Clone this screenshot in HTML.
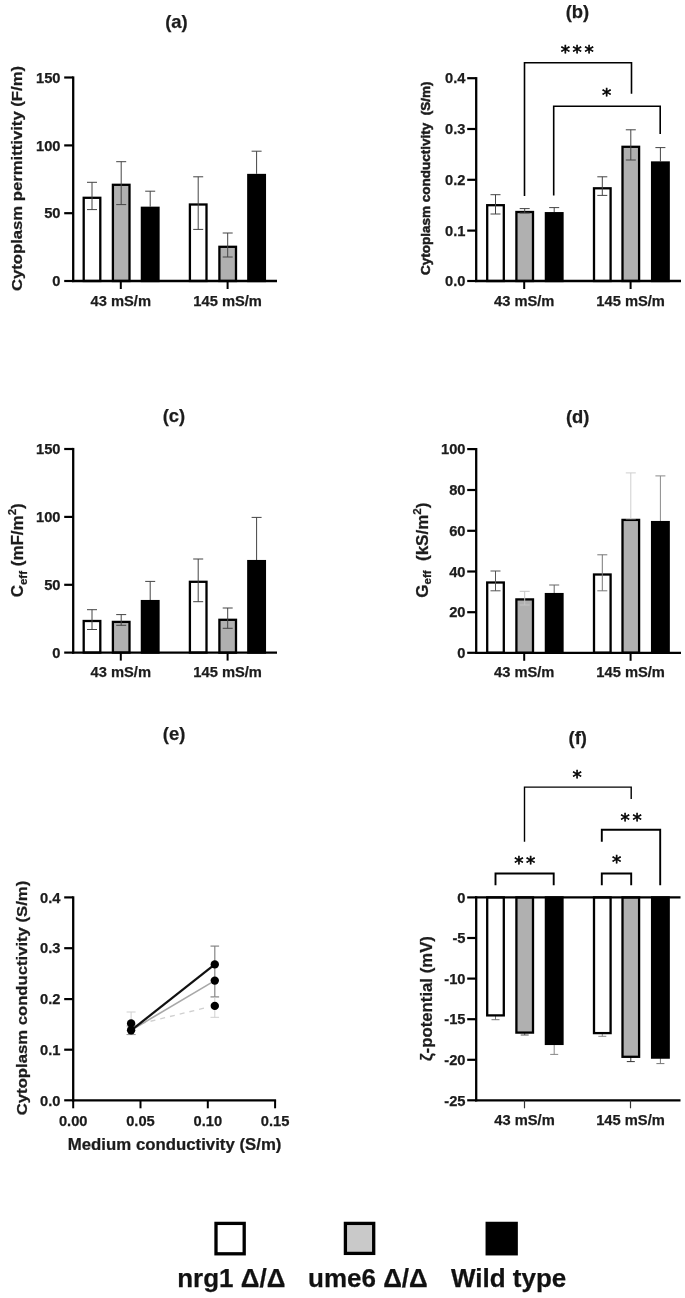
<!DOCTYPE html>
<html lang="en"><head><meta charset="utf-8"><title>Figure</title>
<style>
html,body{margin:0;padding:0;background:#fff;}
body{width:685px;height:1298px;overflow:hidden;}
svg{display:block;font-family:"Liberation Sans", Arial, sans-serif;}
text{stroke:#1c1c1c;stroke-width:0.25px;}
</style></head><body>
<svg width="685" height="1298" viewBox="0 0 685 1298">
<rect width="685" height="1298" fill="#fff"/>
<g style="filter:blur(0.68px)">
<text x="176.4" y="27.7" font-size="18.4" font-weight="bold" text-anchor="middle" fill="#1c1c1c" >(a)</text>
<rect x="83.7" y="197.8" width="16.6" height="83.2" fill="#fff" stroke="#000" stroke-width="2.3"/>
<line x1="92.0" y1="182.3" x2="92.0" y2="209.6" stroke="#444" stroke-width="1.0" />
<line x1="87.0" y1="182.3" x2="97.0" y2="182.3" stroke="#444" stroke-width="1.0" />
<line x1="87.0" y1="209.6" x2="97.0" y2="209.6" stroke="#444" stroke-width="1.0" />
<rect x="112.9" y="184.8" width="16.6" height="96.2" fill="#b0b0b0" stroke="#000" stroke-width="2.3"/>
<line x1="121.2" y1="161.7" x2="121.2" y2="204.6" stroke="#444" stroke-width="1.0" />
<line x1="116.2" y1="161.7" x2="126.2" y2="161.7" stroke="#444" stroke-width="1.0" />
<line x1="116.2" y1="204.6" x2="126.2" y2="204.6" stroke="#444" stroke-width="1.0" />
<line x1="150.2" y1="191.2" x2="150.2" y2="206.6" stroke="#444" stroke-width="1.0" />
<line x1="145.2" y1="191.2" x2="155.2" y2="191.2" stroke="#444" stroke-width="1.0" />
<rect x="141.9" y="207.8" width="16.6" height="73.2" fill="#000" stroke="#000" stroke-width="2.3"/>
<rect x="189.9" y="204.5" width="16.6" height="76.5" fill="#fff" stroke="#000" stroke-width="2.3"/>
<line x1="198.2" y1="176.8" x2="198.2" y2="229.4" stroke="#444" stroke-width="1.0" />
<line x1="193.2" y1="176.8" x2="203.2" y2="176.8" stroke="#444" stroke-width="1.0" />
<line x1="193.2" y1="229.4" x2="203.2" y2="229.4" stroke="#444" stroke-width="1.0" />
<rect x="219.4" y="246.8" width="16.6" height="34.2" fill="#b0b0b0" stroke="#000" stroke-width="2.3"/>
<line x1="227.7" y1="233.0" x2="227.7" y2="257.0" stroke="#444" stroke-width="1.0" />
<line x1="222.7" y1="233.0" x2="232.7" y2="233.0" stroke="#444" stroke-width="1.0" />
<line x1="222.7" y1="257.0" x2="232.7" y2="257.0" stroke="#444" stroke-width="1.0" />
<line x1="256.6" y1="151.2" x2="256.6" y2="173.8" stroke="#444" stroke-width="1.0" />
<line x1="251.6" y1="151.2" x2="261.6" y2="151.2" stroke="#444" stroke-width="1.0" />
<rect x="248.3" y="175.0" width="16.6" height="106.0" fill="#000" stroke="#000" stroke-width="2.3"/>
<line x1="73.2" y1="76.4" x2="73.2" y2="282.1" stroke="#000" stroke-width="2.3" />
<line x1="64.2" y1="77.5" x2="73.2" y2="77.5" stroke="#000" stroke-width="2.2" />
<text x="60.5" y="82.7" font-size="14.7" font-weight="bold" text-anchor="end" fill="#1c1c1c" >150</text>
<line x1="64.2" y1="145.4" x2="73.2" y2="145.4" stroke="#000" stroke-width="2.2" />
<text x="60.5" y="150.6" font-size="14.7" font-weight="bold" text-anchor="end" fill="#1c1c1c" >100</text>
<line x1="64.2" y1="213.2" x2="73.2" y2="213.2" stroke="#000" stroke-width="2.2" />
<text x="60.5" y="218.4" font-size="14.7" font-weight="bold" text-anchor="end" fill="#1c1c1c" >50</text>
<line x1="64.2" y1="281.0" x2="73.2" y2="281.0" stroke="#000" stroke-width="2.2" />
<text x="60.5" y="286.2" font-size="14.7" font-weight="bold" text-anchor="end" fill="#1c1c1c" >0</text>
<line x1="72.1" y1="281.0" x2="277.0" y2="281.0" stroke="#000" stroke-width="2.3" />
<line x1="120.8" y1="281.0" x2="120.8" y2="289.0" stroke="#000" stroke-width="2" />
<text x="120.8" y="305.5" font-size="14.7" font-weight="bold" text-anchor="middle" fill="#1c1c1c" >43 mS/m</text>
<line x1="227.6" y1="281.0" x2="227.6" y2="289.0" stroke="#000" stroke-width="2" />
<text x="227.6" y="305.5" font-size="14.7" font-weight="bold" text-anchor="middle" fill="#1c1c1c" >145 mS/m</text>
<text transform="translate(21.8 178.5) rotate(-90) scale(1.0830 1)" font-size="15.4" font-weight="bold" text-anchor="middle" fill="#1c1c1c" >Cytoplasm permittivity (F/m)</text>
<text x="577.4" y="18.2" font-size="18.4" font-weight="bold" text-anchor="middle" fill="#1c1c1c" >(b)</text>
<polyline points="524.5,195.9 524.5,62.8 631.5,62.8 631.5,93.8" fill="none" stroke="#000" stroke-width="1.6"/>
<polyline points="553.7,195.4 553.7,106.2 660.2,106.2 660.2,134.0" fill="none" stroke="#000" stroke-width="1.6"/>
<text x="578.6" y="58.3" font-size="18.5" text-anchor="middle" fill="#000" style="stroke:#000;stroke-width:0.6px" letter-spacing="2.7" font-family='"DejaVu Sans", "Liberation Sans", sans-serif'>***</text>
<text x="608.1" y="100.5" font-size="18.5" text-anchor="middle" fill="#000" style="stroke:#000;stroke-width:0.6px" letter-spacing="2.7" font-family='"DejaVu Sans", "Liberation Sans", sans-serif'>*</text>
<rect x="487.2" y="205.2" width="16.6" height="75.8" fill="#fff" stroke="#000" stroke-width="2.3"/>
<line x1="495.5" y1="194.7" x2="495.5" y2="214.0" stroke="#444" stroke-width="1.0" />
<line x1="490.5" y1="194.7" x2="500.5" y2="194.7" stroke="#444" stroke-width="1.0" />
<line x1="490.5" y1="214.0" x2="500.5" y2="214.0" stroke="#444" stroke-width="1.0" />
<rect x="516.4" y="212.0" width="16.6" height="69.0" fill="#b0b0b0" stroke="#000" stroke-width="2.3"/>
<line x1="524.7" y1="208.6" x2="524.7" y2="213.0" stroke="#444" stroke-width="1.0" />
<line x1="519.7" y1="208.6" x2="529.7" y2="208.6" stroke="#444" stroke-width="1.0" />
<line x1="519.7" y1="213.0" x2="529.7" y2="213.0" stroke="#444" stroke-width="1.0" />
<line x1="554.2" y1="207.6" x2="554.2" y2="212.0" stroke="#444" stroke-width="1.0" />
<line x1="549.2" y1="207.6" x2="559.2" y2="207.6" stroke="#444" stroke-width="1.0" />
<rect x="545.9" y="213.2" width="16.6" height="67.8" fill="#000" stroke="#000" stroke-width="2.3"/>
<rect x="594.0" y="188.3" width="16.6" height="92.7" fill="#fff" stroke="#000" stroke-width="2.3"/>
<line x1="602.3" y1="176.8" x2="602.3" y2="195.4" stroke="#444" stroke-width="1.0" />
<line x1="597.3" y1="176.8" x2="607.3" y2="176.8" stroke="#444" stroke-width="1.0" />
<line x1="597.3" y1="195.4" x2="607.3" y2="195.4" stroke="#444" stroke-width="1.0" />
<rect x="622.5" y="146.8" width="16.6" height="134.2" fill="#b0b0b0" stroke="#000" stroke-width="2.3"/>
<line x1="630.8" y1="129.8" x2="630.8" y2="160.0" stroke="#444" stroke-width="1.0" />
<line x1="625.8" y1="129.8" x2="635.8" y2="129.8" stroke="#444" stroke-width="1.0" />
<line x1="625.8" y1="160.0" x2="635.8" y2="160.0" stroke="#444" stroke-width="1.0" />
<line x1="660.4" y1="147.6" x2="660.4" y2="161.3" stroke="#444" stroke-width="1.0" />
<line x1="655.4" y1="147.6" x2="665.4" y2="147.6" stroke="#444" stroke-width="1.0" />
<rect x="652.1" y="162.5" width="16.6" height="118.5" fill="#000" stroke="#000" stroke-width="2.3"/>
<line x1="476.2" y1="77.1" x2="476.2" y2="282.1" stroke="#000" stroke-width="2.3" />
<line x1="467.2" y1="78.2" x2="476.2" y2="78.2" stroke="#000" stroke-width="2.2" />
<text x="465.5" y="83.4" font-size="14.7" font-weight="bold" text-anchor="end" fill="#1c1c1c" >0.4</text>
<line x1="467.2" y1="129.0" x2="476.2" y2="129.0" stroke="#000" stroke-width="2.2" />
<text x="465.5" y="134.2" font-size="14.7" font-weight="bold" text-anchor="end" fill="#1c1c1c" >0.3</text>
<line x1="467.2" y1="179.8" x2="476.2" y2="179.8" stroke="#000" stroke-width="2.2" />
<text x="465.5" y="185.0" font-size="14.7" font-weight="bold" text-anchor="end" fill="#1c1c1c" >0.2</text>
<line x1="467.2" y1="230.6" x2="476.2" y2="230.6" stroke="#000" stroke-width="2.2" />
<text x="465.5" y="235.8" font-size="14.7" font-weight="bold" text-anchor="end" fill="#1c1c1c" >0.1</text>
<line x1="467.2" y1="281.0" x2="476.2" y2="281.0" stroke="#000" stroke-width="2.2" />
<text x="465.5" y="286.2" font-size="14.7" font-weight="bold" text-anchor="end" fill="#1c1c1c" >0.0</text>
<line x1="475.1" y1="281.0" x2="681.0" y2="281.0" stroke="#000" stroke-width="2.3" />
<line x1="524.2" y1="281.0" x2="524.2" y2="289.0" stroke="#000" stroke-width="2" />
<text x="524.2" y="305.5" font-size="14.7" font-weight="bold" text-anchor="middle" fill="#1c1c1c" >43 mS/m</text>
<line x1="630.6" y1="281.0" x2="630.6" y2="289.0" stroke="#000" stroke-width="2" />
<text x="630.6" y="305.5" font-size="14.7" font-weight="bold" text-anchor="middle" fill="#1c1c1c" >145 mS/m</text>
<text transform="translate(430.0 178.3) rotate(-90) scale(1.0720 1)" font-size="12.6" font-weight="bold" text-anchor="middle" fill="#1c1c1c" style="stroke-width:0.5px">Cytoplasm conductivity&#160;&#160;(S/m)</text>
<text x="174.0" y="422.2" font-size="18.4" font-weight="bold" text-anchor="middle" fill="#1c1c1c" >(c)</text>
<rect x="83.7" y="621.0" width="16.6" height="31.6" fill="#fff" stroke="#000" stroke-width="2.3"/>
<line x1="92.0" y1="609.7" x2="92.0" y2="629.5" stroke="#444" stroke-width="1.0" />
<line x1="87.0" y1="609.7" x2="97.0" y2="609.7" stroke="#444" stroke-width="1.0" />
<line x1="87.0" y1="629.5" x2="97.0" y2="629.5" stroke="#444" stroke-width="1.0" />
<rect x="112.9" y="621.9" width="16.6" height="30.7" fill="#b0b0b0" stroke="#000" stroke-width="2.3"/>
<line x1="121.2" y1="614.6" x2="121.2" y2="625.3" stroke="#444" stroke-width="1.0" />
<line x1="116.2" y1="614.6" x2="126.2" y2="614.6" stroke="#444" stroke-width="1.0" />
<line x1="116.2" y1="625.3" x2="126.2" y2="625.3" stroke="#444" stroke-width="1.0" />
<line x1="150.2" y1="581.4" x2="150.2" y2="600.0" stroke="#444" stroke-width="1.0" />
<line x1="145.2" y1="581.4" x2="155.2" y2="581.4" stroke="#444" stroke-width="1.0" />
<rect x="141.9" y="601.1" width="16.6" height="51.5" fill="#000" stroke="#000" stroke-width="2.3"/>
<rect x="189.9" y="581.8" width="16.6" height="70.8" fill="#fff" stroke="#000" stroke-width="2.3"/>
<line x1="198.2" y1="559.0" x2="198.2" y2="601.7" stroke="#444" stroke-width="1.0" />
<line x1="193.2" y1="559.0" x2="203.2" y2="559.0" stroke="#444" stroke-width="1.0" />
<line x1="193.2" y1="601.7" x2="203.2" y2="601.7" stroke="#444" stroke-width="1.0" />
<rect x="219.4" y="619.8" width="16.6" height="32.9" fill="#b0b0b0" stroke="#000" stroke-width="2.3"/>
<line x1="227.7" y1="608.0" x2="227.7" y2="628.3" stroke="#444" stroke-width="1.0" />
<line x1="222.7" y1="608.0" x2="232.7" y2="608.0" stroke="#444" stroke-width="1.0" />
<line x1="222.7" y1="628.3" x2="232.7" y2="628.3" stroke="#444" stroke-width="1.0" />
<line x1="256.6" y1="517.4" x2="256.6" y2="560.0" stroke="#444" stroke-width="1.0" />
<line x1="251.6" y1="517.4" x2="261.6" y2="517.4" stroke="#444" stroke-width="1.0" />
<rect x="248.3" y="561.1" width="16.6" height="91.5" fill="#000" stroke="#000" stroke-width="2.3"/>
<line x1="73.2" y1="447.9" x2="73.2" y2="653.7" stroke="#000" stroke-width="2.3" />
<line x1="64.2" y1="449.0" x2="73.2" y2="449.0" stroke="#000" stroke-width="2.2" />
<text x="60.5" y="454.2" font-size="14.7" font-weight="bold" text-anchor="end" fill="#1c1c1c" >150</text>
<line x1="64.2" y1="516.9" x2="73.2" y2="516.9" stroke="#000" stroke-width="2.2" />
<text x="60.5" y="522.1" font-size="14.7" font-weight="bold" text-anchor="end" fill="#1c1c1c" >100</text>
<line x1="64.2" y1="584.8" x2="73.2" y2="584.8" stroke="#000" stroke-width="2.2" />
<text x="60.5" y="590.0" font-size="14.7" font-weight="bold" text-anchor="end" fill="#1c1c1c" >50</text>
<line x1="64.2" y1="652.6" x2="73.2" y2="652.6" stroke="#000" stroke-width="2.2" />
<text x="60.5" y="657.8" font-size="14.7" font-weight="bold" text-anchor="end" fill="#1c1c1c" >0</text>
<line x1="72.1" y1="652.6" x2="277.0" y2="652.6" stroke="#000" stroke-width="2.3" />
<line x1="120.8" y1="652.6" x2="120.8" y2="660.6" stroke="#000" stroke-width="2" />
<text x="120.8" y="677.1" font-size="14.7" font-weight="bold" text-anchor="middle" fill="#1c1c1c" >43 mS/m</text>
<line x1="227.6" y1="652.6" x2="227.6" y2="660.6" stroke="#000" stroke-width="2" />
<text x="227.6" y="677.1" font-size="14.7" font-weight="bold" text-anchor="middle" fill="#1c1c1c" >145 mS/m</text>
<text transform="translate(23.4 550.3) rotate(-90) scale(1.0900 1)" font-size="15.6" font-weight="bold" text-anchor="middle" fill="#1c1c1c" >C<tspan font-size="10.6" dy="3.2">eff</tspan><tspan dy="-3.2"> (mF/m</tspan><tspan font-size="10.6" dy="-7">2</tspan><tspan dy="7">)</tspan></text>
<text x="577.7" y="422.9" font-size="18.4" font-weight="bold" text-anchor="middle" fill="#1c1c1c" >(d)</text>
<rect x="487.2" y="582.5" width="16.6" height="70.2" fill="#fff" stroke="#000" stroke-width="2.3"/>
<line x1="495.5" y1="571.0" x2="495.5" y2="590.8" stroke="#555" stroke-width="1.0" />
<line x1="490.5" y1="571.0" x2="500.5" y2="571.0" stroke="#555" stroke-width="1.0" />
<line x1="490.5" y1="590.8" x2="500.5" y2="590.8" stroke="#555" stroke-width="1.0" />
<rect x="516.4" y="599.4" width="16.6" height="53.4" fill="#b0b0b0" stroke="#000" stroke-width="2.3"/>
<line x1="524.7" y1="591.3" x2="524.7" y2="605.0" stroke="#c4c4c4" stroke-width="1.0" />
<line x1="519.7" y1="591.3" x2="529.7" y2="591.3" stroke="#c4c4c4" stroke-width="1.0" />
<line x1="519.7" y1="605.0" x2="529.7" y2="605.0" stroke="#c4c4c4" stroke-width="1.0" />
<line x1="554.2" y1="585.0" x2="554.2" y2="593.0" stroke="#666" stroke-width="1.0" />
<line x1="549.2" y1="585.0" x2="559.2" y2="585.0" stroke="#666" stroke-width="1.0" />
<rect x="545.9" y="594.1" width="16.6" height="58.6" fill="#000" stroke="#000" stroke-width="2.3"/>
<rect x="594.0" y="574.5" width="16.6" height="78.2" fill="#fff" stroke="#000" stroke-width="2.3"/>
<line x1="602.3" y1="554.8" x2="602.3" y2="590.8" stroke="#777" stroke-width="1.0" />
<line x1="597.3" y1="554.8" x2="607.3" y2="554.8" stroke="#777" stroke-width="1.0" />
<line x1="597.3" y1="590.8" x2="607.3" y2="590.8" stroke="#777" stroke-width="1.0" />
<rect x="622.5" y="519.9" width="16.6" height="132.8" fill="#b0b0b0" stroke="#000" stroke-width="2.3"/>
<line x1="630.8" y1="472.9" x2="630.8" y2="518.8" stroke="#cfcfcf" stroke-width="1.0" />
<line x1="625.8" y1="472.9" x2="635.8" y2="472.9" stroke="#cfcfcf" stroke-width="1.0" />
<line x1="625.8" y1="518.8" x2="635.8" y2="518.8" stroke="#cfcfcf" stroke-width="1.0" />
<line x1="660.4" y1="475.9" x2="660.4" y2="521.0" stroke="#8a8a8a" stroke-width="1.0" />
<line x1="655.4" y1="475.9" x2="665.4" y2="475.9" stroke="#8a8a8a" stroke-width="1.0" />
<rect x="652.1" y="522.1" width="16.6" height="130.6" fill="#000" stroke="#000" stroke-width="2.3"/>
<line x1="476.2" y1="448.0" x2="476.2" y2="653.9" stroke="#000" stroke-width="2.3" />
<line x1="467.2" y1="449.1" x2="476.2" y2="449.1" stroke="#000" stroke-width="2.2" />
<text x="465.5" y="454.3" font-size="14.7" font-weight="bold" text-anchor="end" fill="#1c1c1c" >100</text>
<line x1="467.2" y1="490.0" x2="476.2" y2="490.0" stroke="#000" stroke-width="2.2" />
<text x="465.5" y="495.2" font-size="14.7" font-weight="bold" text-anchor="end" fill="#1c1c1c" >80</text>
<line x1="467.2" y1="530.8" x2="476.2" y2="530.8" stroke="#000" stroke-width="2.2" />
<text x="465.5" y="536.0" font-size="14.7" font-weight="bold" text-anchor="end" fill="#1c1c1c" >60</text>
<line x1="467.2" y1="571.5" x2="476.2" y2="571.5" stroke="#000" stroke-width="2.2" />
<text x="465.5" y="576.7" font-size="14.7" font-weight="bold" text-anchor="end" fill="#1c1c1c" >40</text>
<line x1="467.2" y1="612.2" x2="476.2" y2="612.2" stroke="#000" stroke-width="2.2" />
<text x="465.5" y="617.4" font-size="14.7" font-weight="bold" text-anchor="end" fill="#1c1c1c" >20</text>
<line x1="467.2" y1="652.8" x2="476.2" y2="652.8" stroke="#000" stroke-width="2.2" />
<text x="465.5" y="658.0" font-size="14.7" font-weight="bold" text-anchor="end" fill="#1c1c1c" >0</text>
<line x1="475.1" y1="652.8" x2="681.0" y2="652.8" stroke="#000" stroke-width="2.3" />
<line x1="524.2" y1="652.8" x2="524.2" y2="660.8" stroke="#000" stroke-width="2" />
<text x="524.2" y="677.3" font-size="14.7" font-weight="bold" text-anchor="middle" fill="#1c1c1c" >43 mS/m</text>
<line x1="630.6" y1="652.8" x2="630.6" y2="660.8" stroke="#000" stroke-width="2" />
<text x="630.6" y="677.3" font-size="14.7" font-weight="bold" text-anchor="middle" fill="#1c1c1c" >145 mS/m</text>
<text transform="translate(427.8 550.2) rotate(-90) scale(1.0900 1)" font-size="15.6" font-weight="bold" text-anchor="middle" fill="#1c1c1c" >G<tspan font-size="10.6" dy="3.2">eff</tspan><tspan dy="-3.2">&#160;&#160;(kS/m</tspan><tspan font-size="10.6" dy="-7">2</tspan><tspan dy="7">)</tspan></text>
<text x="174.1" y="740.3" font-size="18.4" font-weight="bold" text-anchor="middle" fill="#1c1c1c" >(e)</text>
<line x1="131.1" y1="1012.0" x2="131.1" y2="1034.7" stroke="#cfcfcf" stroke-width="1.0" />
<line x1="126.6" y1="1012.0" x2="135.6" y2="1012.0" stroke="#cfcfcf" stroke-width="1.0" />
<line x1="126.6" y1="1034.7" x2="135.6" y2="1034.7" stroke="#cfcfcf" stroke-width="1.0" />
<line x1="131.1" y1="1026.0" x2="131.1" y2="1034.5" stroke="#999" stroke-width="1.0" />
<line x1="126.6" y1="1026.0" x2="135.6" y2="1026.0" stroke="#999" stroke-width="1.0" />
<line x1="126.6" y1="1034.5" x2="135.6" y2="1034.5" stroke="#999" stroke-width="1.0" />
<line x1="214.8" y1="946.1" x2="214.8" y2="996.9" stroke="#858585" stroke-width="1.2" />
<line x1="210.5" y1="946.1" x2="219.1" y2="946.1" stroke="#858585" stroke-width="1.2" />
<line x1="210.5" y1="996.9" x2="219.1" y2="996.9" stroke="#858585" stroke-width="1.2" />
<line x1="214.8" y1="996.9" x2="214.8" y2="1017.3" stroke="#d0d0d0" stroke-width="1.0" />
<line x1="210.5" y1="1017.3" x2="219.1" y2="1017.3" stroke="#d0d0d0" stroke-width="1.0" />
<line x1="131.1" y1="1026.0" x2="206.8" y2="1007.5" stroke="#d0d0d0" stroke-width="1.3" stroke-dasharray="5 5"/>
<line x1="131.1" y1="1030.2" x2="214.8" y2="980.6" stroke="#a8a8a8" stroke-width="1.6" />
<line x1="131.1" y1="1030.4" x2="214.8" y2="964.4" stroke="#111" stroke-width="2.2" />
<circle cx="131.1" cy="1023.4" r="4.2" fill="#000"/>
<circle cx="131.1" cy="1030.2" r="4.2" fill="#000"/>
<circle cx="214.8" cy="964.4" r="4.2" fill="#000"/>
<circle cx="214.8" cy="980.6" r="4.2" fill="#000"/>
<circle cx="214.8" cy="1005.9" r="4.2" fill="#000"/>
<line x1="73.2" y1="896.3" x2="73.2" y2="1101.4" stroke="#000" stroke-width="2.3" />
<line x1="64.2" y1="897.4" x2="73.2" y2="897.4" stroke="#000" stroke-width="2.2" />
<text x="60.5" y="902.6" font-size="14.7" font-weight="bold" text-anchor="end" fill="#1c1c1c" >0.4</text>
<line x1="64.2" y1="948.2" x2="73.2" y2="948.2" stroke="#000" stroke-width="2.2" />
<text x="60.5" y="953.4" font-size="14.7" font-weight="bold" text-anchor="end" fill="#1c1c1c" >0.3</text>
<line x1="64.2" y1="999.1" x2="73.2" y2="999.1" stroke="#000" stroke-width="2.2" />
<text x="60.5" y="1004.3" font-size="14.7" font-weight="bold" text-anchor="end" fill="#1c1c1c" >0.2</text>
<line x1="64.2" y1="1049.7" x2="73.2" y2="1049.7" stroke="#000" stroke-width="2.2" />
<text x="60.5" y="1054.9" font-size="14.7" font-weight="bold" text-anchor="end" fill="#1c1c1c" >0.1</text>
<line x1="64.2" y1="1100.3" x2="73.2" y2="1100.3" stroke="#000" stroke-width="2.2" />
<text x="60.5" y="1105.5" font-size="14.7" font-weight="bold" text-anchor="end" fill="#1c1c1c" >0.0</text>
<line x1="72.1" y1="1100.3" x2="276.1" y2="1100.3" stroke="#000" stroke-width="2.3" />
<line x1="73.2" y1="1100.3" x2="73.2" y2="1108.3" stroke="#000" stroke-width="2" />
<text x="73.2" y="1125.6" font-size="14.7" font-weight="bold" text-anchor="middle" fill="#1c1c1c" >0.00</text>
<line x1="140.5" y1="1100.3" x2="140.5" y2="1108.3" stroke="#000" stroke-width="2" />
<text x="140.5" y="1125.6" font-size="14.7" font-weight="bold" text-anchor="middle" fill="#1c1c1c" >0.05</text>
<line x1="207.8" y1="1100.3" x2="207.8" y2="1108.3" stroke="#000" stroke-width="2" />
<text x="207.8" y="1125.6" font-size="14.7" font-weight="bold" text-anchor="middle" fill="#1c1c1c" >0.10</text>
<line x1="275.1" y1="1100.3" x2="275.1" y2="1108.3" stroke="#000" stroke-width="2" />
<text x="275.1" y="1125.6" font-size="14.7" font-weight="bold" text-anchor="middle" fill="#1c1c1c" >0.15</text>
<text transform="translate(174.6 1150.0) rotate(0) scale(1.0770 1)" font-size="15.6" font-weight="bold" text-anchor="middle" fill="#1c1c1c" >Medium conductivity (S/m)</text>
<text transform="translate(26.6 998.0) rotate(-90) scale(1.0840 1)" font-size="15.4" font-weight="bold" text-anchor="middle" fill="#1c1c1c" >Cytoplasm conductivity (S/m)</text>
<text x="577.8" y="743.8" font-size="18.4" font-weight="bold" text-anchor="middle" fill="#1c1c1c" >(f)</text>
<polyline points="524.5,841.7 524.5,787.1 631.2,787.1 631.2,799.0" fill="none" stroke="#000" stroke-width="1.4"/>
<polyline points="601.8,841.7 601.8,829.8 660.2,829.8 660.2,885.2" fill="none" stroke="#000" stroke-width="1.9"/>
<polyline points="495.5,885.2 495.5,873.5 553.7,873.5 553.7,885.2" fill="none" stroke="#000" stroke-width="1.9"/>
<polyline points="601.8,885.2 601.8,873.5 631.2,873.5 631.2,885.2" fill="none" stroke="#000" stroke-width="1.9"/>
<text x="578.4" y="783.2" font-size="18.5" text-anchor="middle" fill="#000" style="stroke:#000;stroke-width:0.6px" letter-spacing="2.7" font-family='"DejaVu Sans", "Liberation Sans", sans-serif'>*</text>
<text x="632.4" y="826.2" font-size="18.5" text-anchor="middle" fill="#000" style="stroke:#000;stroke-width:0.6px" letter-spacing="2.7" font-family='"DejaVu Sans", "Liberation Sans", sans-serif'>**</text>
<text x="526.1" y="868.6" font-size="18.5" text-anchor="middle" fill="#000" style="stroke:#000;stroke-width:0.6px" letter-spacing="2.7" font-family='"DejaVu Sans", "Liberation Sans", sans-serif'>**</text>
<text x="618.1" y="868.4" font-size="18.5" text-anchor="middle" fill="#000" style="stroke:#000;stroke-width:0.6px" letter-spacing="2.7" font-family='"DejaVu Sans", "Liberation Sans", sans-serif'>*</text>
<line x1="495.5" y1="1014.5" x2="495.5" y2="1019.7" stroke="#777" stroke-width="1.0" />
<line x1="491.5" y1="1019.7" x2="499.5" y2="1019.7" stroke="#777" stroke-width="1.0" />
<rect x="487.2" y="897.4" width="16.6" height="118.0" fill="#fff" stroke="#000" stroke-width="2.3"/>
<line x1="524.7" y1="1031.8" x2="524.7" y2="1035.0" stroke="#555" stroke-width="1.0" />
<line x1="520.7" y1="1035.0" x2="528.7" y2="1035.0" stroke="#555" stroke-width="1.0" />
<rect x="516.4" y="897.4" width="16.6" height="135.2" fill="#b0b0b0" stroke="#000" stroke-width="2.3"/>
<line x1="554.2" y1="1043.0" x2="554.2" y2="1054.4" stroke="#888" stroke-width="1.0" />
<line x1="550.2" y1="1054.4" x2="558.2" y2="1054.4" stroke="#888" stroke-width="1.0" />
<rect x="545.9" y="897.4" width="16.6" height="146.5" fill="#000" stroke="#000" stroke-width="2.3"/>
<line x1="602.3" y1="1032.3" x2="602.3" y2="1036.3" stroke="#888" stroke-width="1.0" />
<line x1="598.3" y1="1036.3" x2="606.3" y2="1036.3" stroke="#888" stroke-width="1.0" />
<rect x="594.0" y="897.4" width="16.6" height="135.7" fill="#fff" stroke="#000" stroke-width="2.3"/>
<line x1="630.8" y1="1055.9" x2="630.8" y2="1061.6" stroke="#333" stroke-width="1.0" />
<line x1="626.8" y1="1061.6" x2="634.8" y2="1061.6" stroke="#333" stroke-width="1.0" />
<rect x="622.5" y="897.4" width="16.6" height="159.4" fill="#b0b0b0" stroke="#000" stroke-width="2.3"/>
<line x1="660.4" y1="1056.7" x2="660.4" y2="1063.6" stroke="#777" stroke-width="1.0" />
<line x1="656.4" y1="1063.6" x2="664.4" y2="1063.6" stroke="#777" stroke-width="1.0" />
<rect x="652.1" y="897.4" width="16.6" height="160.2" fill="#000" stroke="#000" stroke-width="2.3"/>
<line x1="476.2" y1="896.3" x2="476.2" y2="1101.4" stroke="#000" stroke-width="2.3" />
<line x1="467.2" y1="897.4" x2="476.2" y2="897.4" stroke="#000" stroke-width="2.2" />
<text x="465.5" y="902.6" font-size="14.7" font-weight="bold" text-anchor="end" fill="#1c1c1c" >0</text>
<line x1="467.2" y1="938.0" x2="476.2" y2="938.0" stroke="#000" stroke-width="2.2" />
<text x="465.5" y="943.2" font-size="14.7" font-weight="bold" text-anchor="end" fill="#1c1c1c" >-5</text>
<line x1="467.2" y1="978.6" x2="476.2" y2="978.6" stroke="#000" stroke-width="2.2" />
<text x="465.5" y="983.8" font-size="14.7" font-weight="bold" text-anchor="end" fill="#1c1c1c" >-10</text>
<line x1="467.2" y1="1019.2" x2="476.2" y2="1019.2" stroke="#000" stroke-width="2.2" />
<text x="465.5" y="1024.4" font-size="14.7" font-weight="bold" text-anchor="end" fill="#1c1c1c" >-15</text>
<line x1="467.2" y1="1059.8" x2="476.2" y2="1059.8" stroke="#000" stroke-width="2.2" />
<text x="465.5" y="1065.0" font-size="14.7" font-weight="bold" text-anchor="end" fill="#1c1c1c" >-20</text>
<line x1="467.2" y1="1100.3" x2="476.2" y2="1100.3" stroke="#000" stroke-width="2.2" />
<text x="465.5" y="1105.5" font-size="14.7" font-weight="bold" text-anchor="end" fill="#1c1c1c" >-25</text>
<line x1="475.1" y1="897.4" x2="680.5" y2="897.4" stroke="#000" stroke-width="2.3" />
<line x1="475.1" y1="1100.3" x2="680.5" y2="1100.3" stroke="#000" stroke-width="2.3" />
<line x1="524.5" y1="1100.3" x2="524.5" y2="1108.3" stroke="#333" stroke-width="1.2" />
<text x="524.5" y="1124.6" font-size="14.7" font-weight="bold" text-anchor="middle" fill="#1c1c1c" >43 mS/m</text>
<line x1="630.5" y1="1100.3" x2="630.5" y2="1108.3" stroke="#333" stroke-width="1.2" />
<text x="630.5" y="1124.6" font-size="14.7" font-weight="bold" text-anchor="middle" fill="#1c1c1c" >145 mS/m</text>
<text transform="translate(431.6 998.6) rotate(-90) scale(1.0750 1)" font-size="15.6" font-weight="bold" text-anchor="middle" fill="#1c1c1c" >ζ-potential (mV)</text>
<rect x="216.0" y="1223.4" width="28.2" height="30.4" fill="#fff" stroke="#000" stroke-width="3.3"/>
<rect x="345.4" y="1223.4" width="28.3" height="30.0" fill="#c9c9c9" stroke="#000" stroke-width="3.3"/>
<rect x="487.2" y="1223.4" width="29.0" height="30.4" fill="#000" stroke="#000" stroke-width="3.3"/>
<text x="177.2" y="1286.9" font-size="26" font-weight="bold" text-anchor="start" fill="#111" >nrg1 Δ/Δ</text>
<text x="308.0" y="1286.9" font-size="26" font-weight="bold" text-anchor="start" fill="#111" >ume6 Δ/Δ</text>
<text x="451.0" y="1286.9" font-size="26" font-weight="bold" text-anchor="start" fill="#111" >Wild type</text>
</g>
</svg>
</body></html>
